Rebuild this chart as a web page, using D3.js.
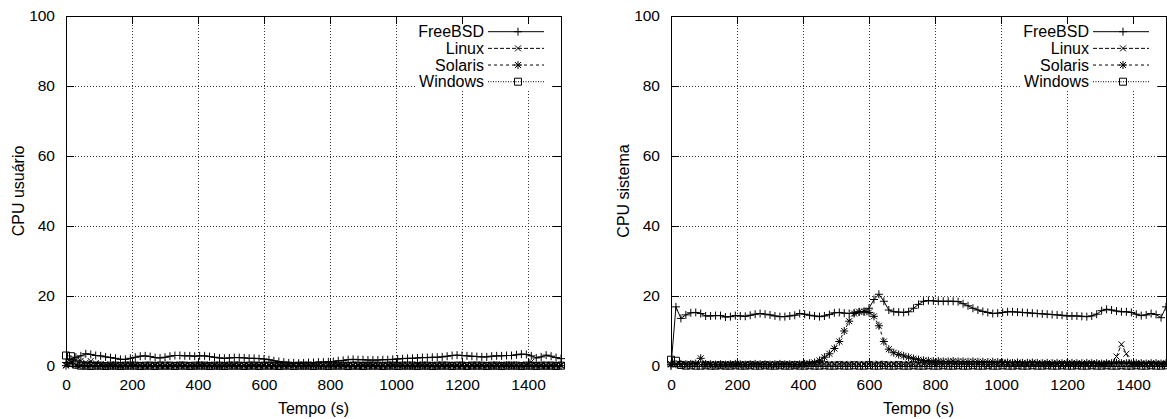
<!DOCTYPE html>
<html lang="pt">
<head>
<meta charset="UTF-8">
<title>CPU usuário / sistema</title>
<script src="https://cdn.jsdelivr.net/npm/d3@7/dist/d3.min.js"></script>
<style>
  body { margin: 0; background: #fff; }
  text { font-family: "Liberation Sans", Arial, Helvetica, sans-serif; font-size: 16px; fill: #000; }
  .eixos text { font-size: 15.5px; }
</style>
</head>
<body>
<svg id="chart" width="1167" height="419"></svg>
<script>
// amostras a cada 15 s, de 0 a 1500 s
var intervalo = 15;
var sistemas = ["FreeBSD", "Linux", "Solaris", "Windows"];
var xTicks = [0, 200, 400, 600, 800, 1000, 1200, 1400];
var yTicks = [0, 20, 40, 60, 80, 100];

// CPU usuário (%)
var usuarioFreeBSD = [
  1.0, 2.0, 2.5, 2.9, 3.5, 3.3, 3.0, 2.9, 2.6, 2.4,
  2.2, 1.9, 1.9, 2.2, 2.5, 2.8, 2.9, 2.7, 2.4, 2.3,
  2.5, 2.8, 3.0, 3.0, 2.9, 2.9, 2.8, 2.9, 2.9, 2.7,
  2.5, 2.3, 2.2, 2.3, 2.4, 2.4, 2.3, 2.2, 2.2, 2.1,
  2.0, 1.8, 1.5, 1.3, 1.1, 0.9, 0.9, 0.8, 0.9, 1.0,
  1.0, 1.1, 1.1, 1.2, 1.3, 1.5, 1.6, 1.8, 1.9, 1.8,
  1.8, 1.7, 1.7, 1.7, 1.8, 1.8, 1.9, 2.0, 2.1, 2.2,
  2.2, 2.3, 2.4, 2.4, 2.5, 2.5, 2.6, 2.8, 3.0, 3.1,
  3.0, 2.9, 2.8, 2.7, 2.6, 2.6, 2.8, 2.9, 2.9, 3.0,
  3.0, 3.2, 3.4, 3.3, 2.9, 2.3, 2.6, 3.1, 2.8, 2.4,
  2.1];
var usuarioLinux = [
  0.3, 1.2, 1.8, 1.5, 1.0, 1.4, 0.8, 0.5, 0.3, 0.4,
  0.3, 0.2, 0.3, 0.4, 0.3, 0.2, 0.3, 0.3, 0.4, 0.3,
  0.2, 0.3, 0.3, 0.4, 0.3, 0.2, 0.3, 0.3, 0.4, 0.3,
  0.3, 0.2, 0.3, 0.3, 0.4, 0.3, 0.2, 0.3, 0.4, 0.3,
  0.3, 0.3, 0.2, 0.3, 0.4, 0.3, 0.3, 0.2, 0.3, 0.3,
  0.4, 0.3, 0.2, 0.3, 0.3, 0.4, 0.3, 0.3, 0.2, 0.3,
  0.3, 0.4, 0.3, 0.2, 0.3, 0.3, 0.4, 0.3, 0.3, 0.2,
  0.3, 0.4, 0.3, 0.3, 0.2, 0.3, 0.4, 0.3, 0.3, 0.3,
  0.2, 0.3, 0.4, 0.3, 0.3, 0.2, 0.3, 0.4, 0.3, 0.3,
  0.3, 0.2, 0.3, 0.4, 1.2, 0.3, 0.3, 0.2, 0.3, 0.4,
  0.3];
var usuarioSolaris = [
  0.1, 0.8, 0.3, 0.2, 0.1, 0.2, 0.1, 0.1, 0.0, 0.1,
  0.1, 0.0, 0.1, 0.1, 0.2, 0.1, 0.0, 0.1, 0.1, 0.1,
  0.0, 0.1, 0.1, 0.2, 0.1, 0.1, 0.0, 0.1, 0.1, 0.1,
  0.1, 0.0, 0.1, 0.2, 0.1, 0.1, 0.1, 0.0, 0.1, 0.1,
  0.1, 0.1, 0.0, 0.1, 0.1, 0.2, 0.1, 0.1, 0.0, 0.1,
  0.1, 0.1, 0.1, 0.0, 0.1, 0.1, 0.2, 0.1, 0.1, 0.0,
  0.1, 0.1, 0.1, 0.1, 0.0, 0.1, 0.1, 0.2, 0.1, 0.1,
  0.0, 0.1, 0.1, 0.1, 0.1, 0.0, 0.1, 0.1, 0.2, 0.1,
  0.1, 0.0, 0.1, 0.1, 0.1, 0.1, 0.0, 0.1, 0.1, 0.2,
  0.1, 0.1, 0.0, 0.1, 0.1, 0.1, 0.1, 0.0, 0.1, 0.1,
  0.1];
var usuarioWindows = [
  3.0, 2.8, 0.4, 0.1, 0.1, 0.0, 0.1, 0.1, 0.0, 0.1,
  0.1, 0.0, 0.1, 0.1, 0.1, 0.0, 0.1, 0.1, 0.0, 0.1,
  0.1, 0.1, 0.0, 0.1, 0.1, 0.0, 0.1, 0.1, 0.1, 0.0,
  0.1, 0.1, 0.0, 0.1, 0.1, 0.1, 0.0, 0.1, 0.1, 0.0,
  0.1, 0.1, 0.1, 0.0, 0.1, 0.1, 0.0, 0.1, 0.1, 0.1,
  0.0, 0.1, 0.1, 0.0, 0.1, 0.1, 0.1, 0.0, 0.1, 0.1,
  0.0, 0.1, 0.1, 0.1, 0.0, 0.1, 0.1, 0.0, 0.1, 0.1,
  0.1, 0.0, 0.1, 0.1, 0.0, 0.1, 0.1, 0.1, 0.0, 0.1,
  0.1, 0.0, 0.1, 0.1, 0.1, 0.0, 0.1, 0.1, 0.0, 0.1,
  0.1, 0.1, 0.0, 0.1, 0.1, 0.0, 0.1, 0.1, 0.1, 0.0,
  0.1];

// CPU sistema (%)
var sistemaFreeBSD = [
  0.0, 16.9, 13.6, 14.6, 15.2, 15.3, 15.0, 14.3, 14.3, 14.4,
  14.4, 14.0, 14.1, 14.4, 14.3, 14.2, 14.5, 14.8, 15.0, 14.8,
  14.6, 14.3, 14.1, 14.1, 14.3, 14.5, 15.0, 14.8, 14.5, 14.3,
  14.1, 14.3, 14.7, 15.2, 15.3, 15.1, 15.0, 15.2, 15.4, 15.5,
  16.5, 19.0, 20.5, 18.5, 16.0, 15.5, 15.4, 15.3, 15.5, 16.5,
  17.6, 18.5, 18.7, 18.6, 18.5, 18.5, 18.5, 18.5, 18.4, 17.8,
  17.2, 16.5, 16.0, 15.6, 15.3, 15.0, 15.1, 15.3, 15.5, 15.5,
  15.4, 15.3, 15.2, 15.1, 15.0, 14.9, 14.8, 14.7, 14.6, 14.5,
  14.3, 14.3, 14.3, 14.2, 14.1, 14.3, 14.8, 15.8, 16.2, 16.0,
  15.7, 15.5, 15.5, 15.3, 14.8, 14.4, 14.6, 15.0, 14.7, 13.8,
  16.9];
var sistemaLinux = [
  0.6, 0.5, 0.4, 0.5, 0.6, 0.5, 0.4, 0.5, 0.5, 0.4,
  0.5, 0.6, 0.5, 0.4, 0.5, 0.5, 0.6, 0.5, 0.4, 0.5,
  0.5, 0.4, 0.5, 0.6, 0.5, 0.5, 0.4, 0.5, 0.6, 0.5,
  0.5, 0.6, 0.5, 0.5, 0.6, 0.6, 0.5, 0.6, 0.5, 0.6,
  0.6, 0.5, 0.7, 0.6, 0.5, 0.6, 0.6, 0.5, 0.6, 0.5,
  0.6, 0.5, 0.5, 0.6, 0.5, 0.5, 0.6, 0.5, 0.5, 0.6,
  0.5, 0.5, 0.6, 0.5, 0.4, 0.5, 0.5, 0.6, 0.5, 0.4,
  0.5, 0.5, 0.4, 0.5, 0.6, 0.5, 0.4, 0.5, 0.5, 0.4,
  0.5, 0.4, 0.5, 0.5, 0.4, 0.5, 0.5, 0.4, 0.5, 0.6,
  2.7, 6.2, 3.5, 0.5, 0.4, 0.5, 0.5, 0.4, 0.5, 0.5,
  0.4];
var sistemaSolaris = [
  0.4, 0.5, 0.6, 0.5, 0.6, 0.7, 2.2, 0.6, 0.5, 0.4,
  0.5, 0.4, 0.5, 0.6, 0.5, 0.4, 0.5, 0.6, 0.5, 0.5,
  0.4, 0.5, 0.6, 0.5, 0.5, 0.4, 0.5, 0.6, 0.8, 1.0,
  1.6, 2.5, 3.5, 5.0, 7.0, 10.0, 12.8, 15.0, 15.5, 15.6,
  15.3, 14.2, 11.5, 7.0, 4.8, 3.8, 3.3, 2.9, 2.5, 2.1,
  1.8, 1.6, 1.5, 1.4, 1.4, 1.3, 1.3, 1.4, 1.3, 1.3,
  1.2, 1.3, 1.2, 1.2, 1.1, 1.2, 1.1, 1.0, 1.0, 0.9,
  1.0, 0.9, 0.9, 1.0, 0.9, 0.8, 0.9, 0.8, 0.9, 0.8,
  0.8, 0.9, 0.8, 0.8, 0.9, 0.8, 0.8, 0.7, 0.8, 0.8,
  0.9, 0.8, 0.8, 0.7, 0.8, 0.8, 0.7, 0.8, 0.8, 0.7,
  0.8];
var sistemaWindows = [
  1.8, 1.5, 0.3, 0.1, 0.2, 0.1, 0.1, 0.2, 0.1, 0.1,
  0.2, 0.1, 0.1, 0.2, 0.1, 0.1, 0.2, 0.1, 0.1, 0.2,
  0.1, 0.1, 0.2, 0.1, 0.1, 0.2, 0.1, 0.1, 0.2, 0.1,
  0.1, 0.2, 0.1, 0.1, 0.2, 0.1, 0.1, 0.2, 0.1, 0.1,
  0.2, 0.1, 0.1, 0.2, 0.1, 0.1, 0.2, 0.1, 0.1, 0.2,
  0.1, 0.1, 0.2, 0.1, 0.1, 0.2, 0.1, 0.1, 0.2, 0.1,
  0.1, 0.2, 0.1, 0.1, 0.2, 0.1, 0.1, 0.2, 0.1, 0.1,
  0.2, 0.1, 0.1, 0.2, 0.1, 0.1, 0.2, 0.1, 0.1, 0.2,
  0.1, 0.1, 0.2, 0.1, 0.1, 0.2, 0.1, 0.1, 0.2, 0.1,
  0.1, 0.2, 0.1, 0.1, 0.2, 0.1, 0.1, 0.2, 0.1, 0.1,
  0.2];

// estilo de cada sistema: tracejado e marcador (como no gnuplot)
var estilos = {
  FreeBSD: { dash: null,    ponto: "M-4,0H4M0,-4V4" },
  Linux:   { dash: "4,2",   ponto: "M-3,-3L3,3M-3,3L3,-3" },
  Solaris: { dash: "3,3",   ponto: "M-4,0H4M0,-4V4M-3,-3L3,3M-3,3L3,-3" },
  Windows: { dash: "1,1.5", ponto: "M-3.5,-3.5h7v7h-7z" }
};

var paineis = [
  { x0: 66,  x1: 561,  rotulo: "CPU usuário",
    dados: [usuarioFreeBSD, usuarioLinux, usuarioSolaris, usuarioWindows] },
  { x0: 671, x1: 1166, rotulo: "CPU sistema",
    dados: [sistemaFreeBSD, sistemaLinux, sistemaSolaris, sistemaWindows] }
];
var topo = 16, base = 366;

var svg = d3.select("#chart");

paineis.forEach(function(p, pi) {
  var x = d3.scaleLinear().domain([0, 1500]).range([p.x0, p.x1]);
  var y = d3.scaleLinear().domain([0, 100]).range([base, topo]);
  var g = svg.append("g");

  // grade pontilhada
  g.selectAll(".gx").data(xTicks.filter(function(d) { return d > 0; }))
    .enter().append("line")
    .attr("x1", function(d) { return Math.round(x(d)) + 0.5; })
    .attr("x2", function(d) { return Math.round(x(d)) + 0.5; })
    .attr("y1", topo).attr("y2", base)
    .attr("stroke", "#333").attr("stroke-dasharray", "1,2");
  g.selectAll(".gy").data(yTicks.filter(function(d) { return d > 0 && d < 100; }))
    .enter().append("line")
    .attr("x1", p.x0).attr("x2", p.x1)
    .attr("y1", function(d) { return Math.round(y(d)) + 0.5; })
    .attr("y2", function(d) { return Math.round(y(d)) + 0.5; })
    .attr("stroke", "#333").attr("stroke-dasharray", "1,2");

  // séries (os marcadores podem passar da borda, como no gnuplot)
  var plot = g.append("g");
  sistemas.forEach(function(nome, si) {
    var valores = p.dados[si];
    var est = estilos[nome];
    var linha = d3.line()
      .x(function(d, i) { return x(i * intervalo); })
      .y(function(d) { return y(d); });
    plot.append("path").datum(valores)
      .attr("d", linha)
      .attr("fill", "none").attr("stroke", "#000").attr("stroke-width", 1)
      .attr("stroke-dasharray", est.dash);
    plot.selectAll(".p" + si).data(valores).enter().append("path")
      .attr("transform", function(d, i) { return "translate(" + x(i * intervalo) + "," + y(d) + ")"; })
      .attr("d", est.ponto)
      .attr("fill", "none").attr("stroke", "#000").attr("stroke-width", 1);
  });

  // legenda com fundo branco
  var lx = p.x1;
  var leg = g.append("g");
  leg.append("rect").attr("x", lx - 145).attr("y", topo + 1)
    .attr("width", 134).attr("height", 73).attr("fill", "#fff");
  sistemas.forEach(function(nome, si) {
    var ly = 31.7 + si * 16.67;
    var est = estilos[nome];
    leg.append("text").attr("x", lx - 77).attr("y", ly).attr("dy", "0.35em")
      .attr("text-anchor", "end").text(nome);
    leg.append("line").attr("x1", lx - 73).attr("x2", lx - 17)
      .attr("y1", ly).attr("y2", ly)
      .attr("stroke", "#000").attr("stroke-dasharray", est.dash);
    leg.append("path").attr("transform", "translate(" + (lx - 43) + "," + ly + ")")
      .attr("d", est.ponto).attr("fill", "none").attr("stroke", "#000");
  });

  // eixos com marcas para dentro
  var ax = g.append("g").attr("class", "eixos");
  ax.append("g").attr("transform", "translate(0," + base + ")")
    .call(d3.axisBottom(x).tickValues(xTicks).tickFormat(d3.format("d"))
      .tickSizeInner(-8).tickSizeOuter(0).tickPadding(13))
    .call(function(s) { s.select(".domain").remove(); });
  ax.append("g").attr("transform", "translate(0," + topo + ")")
    .call(d3.axisTop(x).tickValues(xTicks).tickSizeInner(-8).tickSizeOuter(0).tickFormat(""))
    .call(function(s) { s.select(".domain").remove(); });
  ax.append("g").attr("transform", "translate(" + p.x0 + ",0)")
    .call(d3.axisLeft(y).tickValues(yTicks).tickFormat(d3.format("d"))
      .tickSizeInner(-8).tickSizeOuter(0).tickPadding(11))
    .call(function(s) { s.select(".domain").remove(); });
  ax.append("g").attr("transform", "translate(" + p.x1 + ",0)")
    .call(d3.axisRight(y).tickValues(yTicks).tickSizeInner(-8).tickSizeOuter(0).tickFormat(""))
    .call(function(s) { s.select(".domain").remove(); });
  ax.selectAll("g").attr("font-size", null).attr("font-family", null);
  ax.selectAll(".tick line").attr("stroke", "#000");

  g.append("rect").attr("x", p.x0).attr("y", topo)
    .attr("width", p.x1 - p.x0).attr("height", base - topo)
    .attr("fill", "none").attr("stroke", "#000").attr("shape-rendering", "crispEdges");

  // títulos dos eixos
  g.append("text").attr("x", (p.x0 + p.x1) / 2).attr("y", 414)
    .attr("text-anchor", "middle").text("Tempo (s)");
  g.append("text")
    .attr("transform", "translate(" + (p.x0 - 42) + "," + ((topo + base) / 2) + ") rotate(-90)")
    .attr("text-anchor", "middle").text(p.rotulo);
});
</script>
</body>
</html>
